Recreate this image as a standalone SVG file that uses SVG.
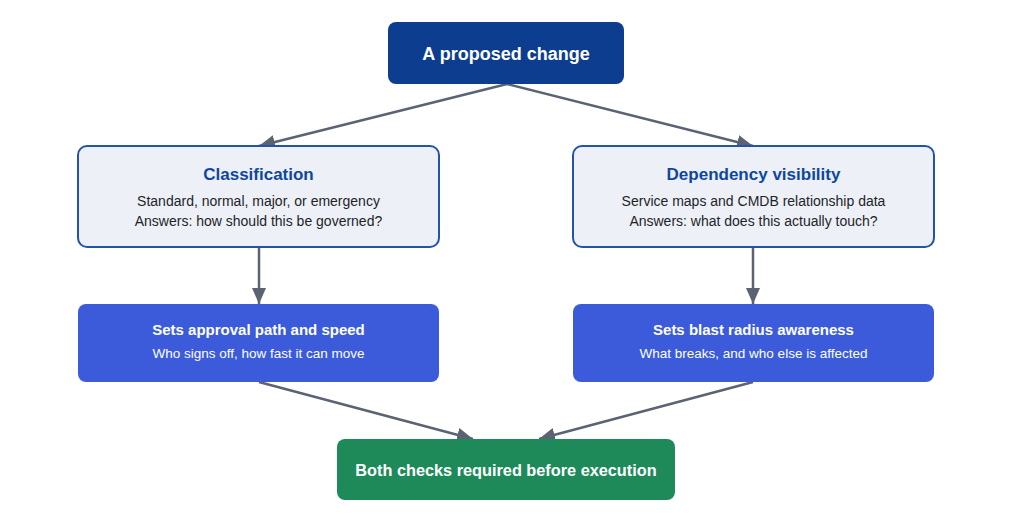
<svg xmlns="http://www.w3.org/2000/svg" width="1024" height="529" viewBox="0 0 1024 529">
<defs>
<style>
text{font-family:"Liberation Sans",Arial,sans-serif;text-anchor:middle}
.dark{fill:#0d3d8f}
.light{fill:#edf1f7;stroke:#2453ad;stroke-width:2}
.mid{fill:#3b5bdb}
.green{fill:#1e8a5a}
.wt{fill:#ffffff;font-weight:bold}
.lt{fill:#0d47a1;font-weight:bold;font-size:17px}
.ls{fill:#1f2328;font-size:14px}
.ws{fill:#ffffff;font-size:13.5px}
.conn{stroke:#5b6372;stroke-width:2.5;fill:none;marker-end:url(#ah)}
</style>
<marker id="ah" viewBox="0 0 16 14" refX="16" refY="7" markerWidth="16" markerHeight="14" markerUnits="userSpaceOnUse" orient="auto">
<path d="M0,0 L16,7 L0,14 z" fill="#5b6372"/>
</marker>
</defs>
<rect width="1024" height="529" fill="#ffffff"/>
<g id="connectors">
<path class="conn" d="M507,84 L259,146"/>
<path class="conn" d="M507,84 L753,146"/>
<path class="conn" d="M259,247 L259,304"/>
<path class="conn" d="M753,247 L753,304"/>
<path class="conn" d="M259,382 L473,439"/>
<path class="conn" d="M753,382 L539,439"/>
</g>
<g id="node-change">
<rect class="dark" x="388" y="22" width="236" height="62" rx="8"/>
<text class="wt" x="506" y="60" font-size="18">A proposed change</text>
</g>
<g id="node-classification">
<rect class="light" x="78" y="146" width="361" height="101" rx="9"/>
<text class="lt" x="258.5" y="180">Classification</text>
<text class="ls" x="258.5" y="206">Standard, normal, major, or emergency</text>
<text class="ls" x="258.5" y="226">Answers: how should this be governed?</text>
</g>
<g id="node-dependency">
<rect class="light" x="573" y="146" width="361" height="101" rx="9"/>
<text class="lt" x="753.5" y="180">Dependency visibility</text>
<text class="ls" x="753.5" y="206">Service maps and CMDB relationship data</text>
<text class="ls" x="753.5" y="226">Answers: what does this actually touch?</text>
</g>
<g id="node-approval">
<rect class="mid" x="78" y="304" width="361" height="78" rx="8"/>
<text class="wt" x="258.5" y="335" font-size="15">Sets approval path and speed</text>
<text class="ws" x="258.5" y="358">Who signs off, how fast it can move</text>
</g>
<g id="node-blast">
<rect class="mid" x="573" y="304" width="361" height="78" rx="8"/>
<text class="wt" x="753.5" y="335" font-size="15">Sets blast radius awareness</text>
<text class="ws" x="753.5" y="358">What breaks, and who else is affected</text>
</g>
<g id="node-both">
<rect class="green" x="337" y="439" width="338" height="61" rx="8"/>
<text class="wt" x="506" y="476" font-size="16.3">Both checks required before execution</text>
</g>
</svg>
